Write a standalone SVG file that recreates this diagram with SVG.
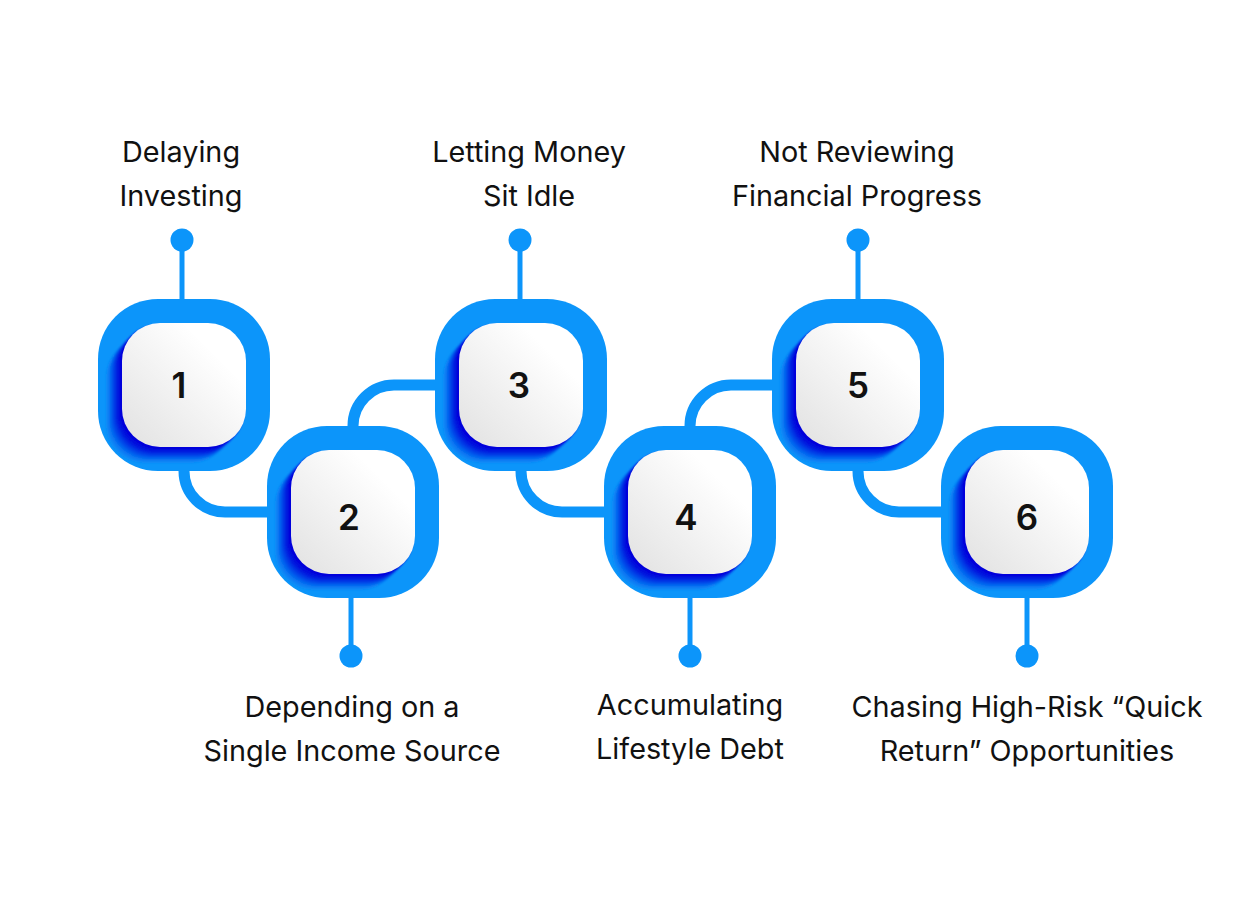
<svg xmlns="http://www.w3.org/2000/svg" xmlns:xlink="http://www.w3.org/1999/xlink" width="1260" height="904" viewBox="0 0 1260 904">
<style>
.ring{fill:#0C95FA}
.card{fill:url(#cardGrad)}
.num{font-family:Inter,"Liberation Sans",sans-serif;font-size:35px;font-weight:600;fill:#111;text-anchor:middle}
.lbl{font-family:Inter,"Liberation Sans",sans-serif;font-size:28.8px;font-weight:400;fill:#111;text-anchor:middle}
.conn{fill:none;stroke:#0C95FA;stroke-width:11}
.stem{stroke:#0C95FA;stroke-width:5}
.dot{fill:#0C95FA}
</style>
<defs>
<linearGradient id="cardGrad" x1="1" y1="0" x2="0" y2="1">
<stop offset="0.25" stop-color="#ffffff"/>
<stop offset="1" stop-color="#e1e1e1"/>
</linearGradient>
<clipPath id="ringClip" clipPathUnits="userSpaceOnUse">
<rect x="-86" y="-86" width="172" height="172" rx="60"/>
</clipPath>
<filter id="soft" x="-20%" y="-20%" width="140%" height="140%">
<feGaussianBlur stdDeviation="1.2"/>
</filter>
<g id="shadow">
<rect x="-78" y="-46" width="124" height="124" rx="38" fill="#0A88F6"/>
<rect x="-76" y="-48" width="124" height="124" rx="38" fill="#0878F3"/>
<rect x="-74" y="-50" width="124" height="124" rx="38" fill="#0664EF"/>
<rect x="-72" y="-52" width="124" height="124" rx="38" fill="#044CEA"/>
<rect x="-70" y="-54" width="124" height="124" rx="38" fill="#0334E5"/>
<rect x="-68" y="-56" width="124" height="124" rx="38" fill="#011CE0"/>
<rect x="-66" y="-58" width="124" height="124" rx="38" fill="#000ADD"/>
<rect x="-64" y="-60" width="124" height="124" rx="38" fill="#0004DB"/>
</g>
</defs>
<rect width="1260" height="904" fill="#ffffff"/>

<g id="connectors">
<path class="conn" d="M184,466 V471 A41,41 0 0 0 225,512 H272"/>
<path class="conn" d="M353,431 V426 A41,41 0 0 1 394,385 H440"/>
<path class="conn" d="M521,466 V471 A41,41 0 0 0 562,512 H609"/>
<path class="conn" d="M690,431 V426 A41,41 0 0 1 731,385 H777"/>
<path class="conn" d="M858,466 V471 A41,41 0 0 0 899,512 H946"/>
</g>

<g id="node-1">
<line class="stem" x1="182" y1="240" x2="182" y2="302"/>
<circle class="dot" cx="182" cy="240" r="11.5"/>
<g transform="translate(184,385)">
<rect class="ring" x="-86" y="-86" width="172" height="172" rx="60"/>
<g clip-path="url(#ringClip)"><use xlink:href="#shadow" filter="url(#soft)"/></g>
<rect class="card" x="-62" y="-62" width="124" height="124" rx="38"/>
<text class="num" x="-5" y="13">1</text>
</g>
<text class="lbl" x="181" y="162">Delaying</text>
<text class="lbl" x="181" y="206">Investing</text>
</g>

<g id="node-2">
<line class="stem" x1="351" y1="595" x2="351" y2="656"/>
<circle class="dot" cx="351" cy="656" r="11.5"/>
<g transform="translate(353,512)">
<rect class="ring" x="-86" y="-86" width="172" height="172" rx="60"/>
<g clip-path="url(#ringClip)"><use xlink:href="#shadow" filter="url(#soft)"/></g>
<rect class="card" x="-62" y="-62" width="124" height="124" rx="38"/>
<text class="num" x="-4" y="18">2</text>
</g>
<text class="lbl" x="352" y="717">Depending on a</text>
<text class="lbl" x="352" y="761">Single Income Source</text>
</g>

<g id="node-3">
<line class="stem" x1="520" y1="240" x2="520" y2="302"/>
<circle class="dot" cx="520" cy="240" r="11.5"/>
<g transform="translate(521,385)">
<rect class="ring" x="-86" y="-86" width="172" height="172" rx="60"/>
<g clip-path="url(#ringClip)"><use xlink:href="#shadow" filter="url(#soft)"/></g>
<rect class="card" x="-62" y="-62" width="124" height="124" rx="38"/>
<text class="num" x="-2" y="13">3</text>
</g>
<text class="lbl" x="529" y="162">Letting Money</text>
<text class="lbl" x="529" y="206">Sit Idle</text>
</g>

<g id="node-4">
<line class="stem" x1="690" y1="595" x2="690" y2="656"/>
<circle class="dot" cx="690" cy="656" r="11.5"/>
<g transform="translate(690,512)">
<rect class="ring" x="-86" y="-86" width="172" height="172" rx="60"/>
<g clip-path="url(#ringClip)"><use xlink:href="#shadow" filter="url(#soft)"/></g>
<rect class="card" x="-62" y="-62" width="124" height="124" rx="38"/>
<text class="num" x="-4" y="18">4</text>
</g>
<text class="lbl" x="690" y="715">Accumulating</text>
<text class="lbl" x="690" y="759">Lifestyle Debt</text>
</g>

<g id="node-5">
<line class="stem" x1="858" y1="240" x2="858" y2="302"/>
<circle class="dot" cx="858" cy="240" r="11.5"/>
<g transform="translate(858,385)">
<rect class="ring" x="-86" y="-86" width="172" height="172" rx="60"/>
<g clip-path="url(#ringClip)"><use xlink:href="#shadow" filter="url(#soft)"/></g>
<rect class="card" x="-62" y="-62" width="124" height="124" rx="38"/>
<text class="num" x="0" y="13">5</text>
</g>
<text class="lbl" x="857" y="162">Not Reviewing</text>
<text class="lbl" x="857" y="206">Financial Progress</text>
</g>

<g id="node-6">
<line class="stem" x1="1027" y1="595" x2="1027" y2="656"/>
<circle class="dot" cx="1027" cy="656" r="11.5"/>
<g transform="translate(1027,512)">
<rect class="ring" x="-86" y="-86" width="172" height="172" rx="60"/>
<g clip-path="url(#ringClip)"><use xlink:href="#shadow" filter="url(#soft)"/></g>
<rect class="card" x="-62" y="-62" width="124" height="124" rx="38"/>
<text class="num" x="0" y="18">6</text>
</g>
<text class="lbl" x="1027" y="717">Chasing High-Risk “Quick</text>
<text class="lbl" x="1027" y="761">Return” Opportunities</text>
</g>
</svg>
